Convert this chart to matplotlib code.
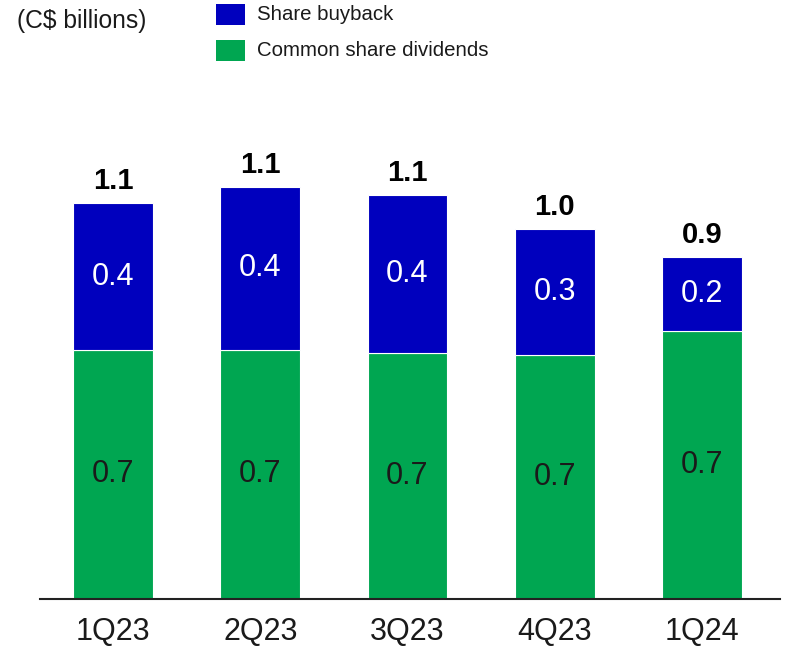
import matplotlib
matplotlib.use("Agg")
import matplotlib.pyplot as plt
from matplotlib.patches import Rectangle
import numpy as np

plt.rcParams['font.family'] = ['Liberation Sans', 'DejaVu Sans']

# Quarterly capital returned to shareholders (C$ billions)
quarters = ["1Q23", "2Q23", "3Q23", "4Q23", "1Q24"]
dividends = [0.673, 0.673, 0.665, 0.660, 0.724]
buybacks = [0.397, 0.441, 0.427, 0.341, 0.200]

series_names = ["Share buyback", "Common share dividends"]
blue = "#0000BE"
green = "#00A651"
ink = "#1a1a1a"

W, H = 793, 646
fig = plt.figure(figsize=(W / 100, H / 100), dpi=100)

# axes placed in pixel terms: baseline at y=599, spans x 40..780
left_px, right_px, bottom_px, top_px = 40, 780, 599, 118
ax = fig.add_axes([left_px / W, (H - bottom_px) / H,
                   (right_px - left_px) / W, (bottom_px - top_px) / H])

x = np.arange(len(quarters))
width = 0.543
div = np.array(dividends)
buy = np.array(buybacks)
total = div + buy

ax.bar(x, div, width, color=green, edgecolor="white", linewidth=0.8)
ax.bar(x, buy, width, bottom=div, color=blue, edgecolor="white", linewidth=0.8)

for xi, d, b, t in zip(x, div, buy, total):
    ax.text(xi, d / 2, f"{d:.1f}", ha="center", va="center",
            fontsize=22, color=ink)
    ax.text(xi, d + b / 2, f"{b:.1f}", ha="center", va="center",
            fontsize=22, color="white")
    ax.annotate(f"{t:.1f}", (xi, t), xytext=(0, 10), textcoords="offset points",
                ha="center", va="baseline", fontsize=21, fontweight="bold",
                color="black")

ax.set_xlim(-0.496, 4.53)
ax.set_ylim(0, 1.3)
ax.set_xticks(x)
ax.set_xticklabels(quarters, fontsize=22, color=ink)
ax.tick_params(axis="x", length=0, pad=13)
ax.set_yticks([])
for side in ["left", "right", "top"]:
    ax.spines[side].set_visible(False)
ax.spines["bottom"].set_linewidth(1.5)
ax.spines["bottom"].set_color("#222222")

# unit note and legend in the top band
fig.text(17 / W, 1 - 21 / H, "(C$ billions)", fontsize=17.7,
         ha="left", va="center", color=ink)

legend_items = [(series_names[0], blue, 4), (series_names[1], green, 40)]
for name, col, ytop in legend_items:
    fig.patches.append(Rectangle((216 / W, 1 - (ytop + 21) / H), 29 / W, 21 / H,
                                 transform=fig.transFigure, facecolor=col,
                                 edgecolor="none"))
    fig.text(257 / W, 1 - (ytop + 11) / H, name, fontsize=14.7,
             ha="left", va="center", color=ink)

fig.savefig("out.png", dpi=100)
